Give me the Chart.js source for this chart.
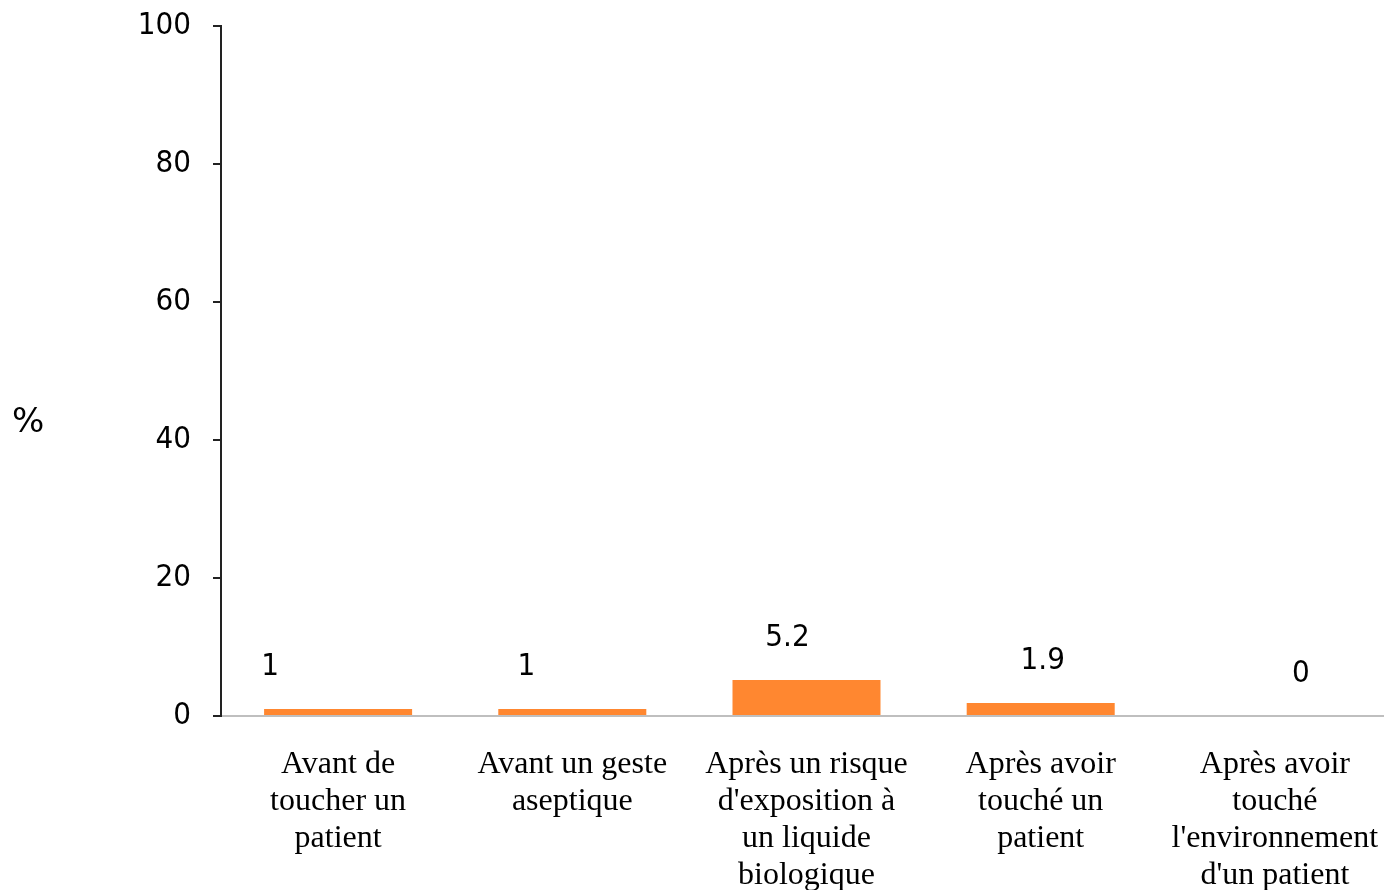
<!DOCTYPE html>
<html>
<head>
<meta charset="utf-8">
<script src="https://cdn.jsdelivr.net/npm/chart.js@4.4.1/dist/chart.umd.min.js"></script>
<style>
  html, body { margin: 0; padding: 0; background: #fff; overflow: hidden; }
</style>
</head>
<body>
<canvas id="chart" width="1392" height="890"></canvas>
<script>
const categories = [
    ['Avant de', 'toucher un', 'patient'],
    ['Avant un geste', 'aseptique'],
    ['Après un risque', "d'exposition à", 'un liquide', 'biologique'],
    ['Après avoir', 'touché un', 'patient'],
    ['Après avoir', 'touché', "l'environnement", "d'un patient"]
];
const values = [1, 1, 5.2, 1.9, 0];
const yTicks = [0, 20, 40, 60, 80, 100];

const sansFont = "'DejaVu Sans Condensed', 'DejaVu Sans', sans-serif";
const serifFont = "'Liberation Serif', 'Times New Roman', serif";

// value labels sit above each bar, nudged sideways a little per column
const valueLabels = {
    id: 'valueLabels',
    afterDatasetsDraw(chart, args, opts) {
        const c = chart.ctx;
        const meta = chart.getDatasetMeta(0);
        c.save();
        c.font = '31px ' + sansFont;
        c.fillStyle = '#000';
        c.textAlign = 'center';
        c.textBaseline = 'middle';
        meta.data.forEach((bar, i) => {
            const v = chart.data.datasets[0].data[i];
            c.fillText(String(v), bar.x + opts.shift[i], bar.y - 42);
        });
        // unit label on the left, upright
        c.font = "34px 'DejaVu Sans', sans-serif";
        c.textAlign = 'left';
        c.fillText('%', 12, chart.scales.y.getPixelForValue(42.5));
        c.restore();
    }
};

const ctx = document.getElementById('chart').getContext('2d');
const myChart = new Chart(ctx, {
    type: 'bar',
    data: {
        labels: categories,
        datasets: [{
            data: values,
            backgroundColor: '#FF8730',
            borderWidth: 0,
            categoryPercentage: 1,
            barPercentage: 0.632
        }]
    },
    plugins: [valueLabels],
    options: {
        responsive: false,
        animation: false,
        devicePixelRatio: 1,
        layout: { autoPadding: false, padding: { top: 26, right: 0, left: 0, bottom: 0 } },
        plugins: {
            legend: { display: false },
            tooltip: { enabled: false },
            valueLabels: { shift: [-68, -46, -19, 2, 26] }
        },
        scales: {
            x: {
                grid: { display: false, drawTicks: false },
                border: { display: true, color: '#BFBFBF', width: 2 },
                ticks: {
                    color: '#000',
                    font: { family: serifFont, size: 32, lineHeight: 1.156 },
                    padding: 30,
                    maxRotation: 0,
                    autoSkip: false
                },
                afterFit(scale) {
                    scale.height = 174;
                    scale.paddingLeft = 0;
                    scale.paddingRight = 0;
                }
            },
            y: {
                min: 0,
                max: 100,
                afterBuildTicks(scale) { scale.ticks = yTicks.map(v => ({ value: v })); },
                grid: {
                    drawOnChartArea: false,
                    drawTicks: true,
                    tickLength: 8,
                    color: '#222',
                    lineWidth: 2
                },
                border: { display: true, color: '#222', width: 2 },
                ticks: {
                    color: '#000',
                    font: { family: sansFont, size: 31 },
                    padding: 22
                },
                afterFit(scale) {
                    scale.width = 221;
                    scale.paddingTop = 0;
                    scale.paddingBottom = 0;
                }
            }
        }
    }
});
</script>
</body>
</html>
